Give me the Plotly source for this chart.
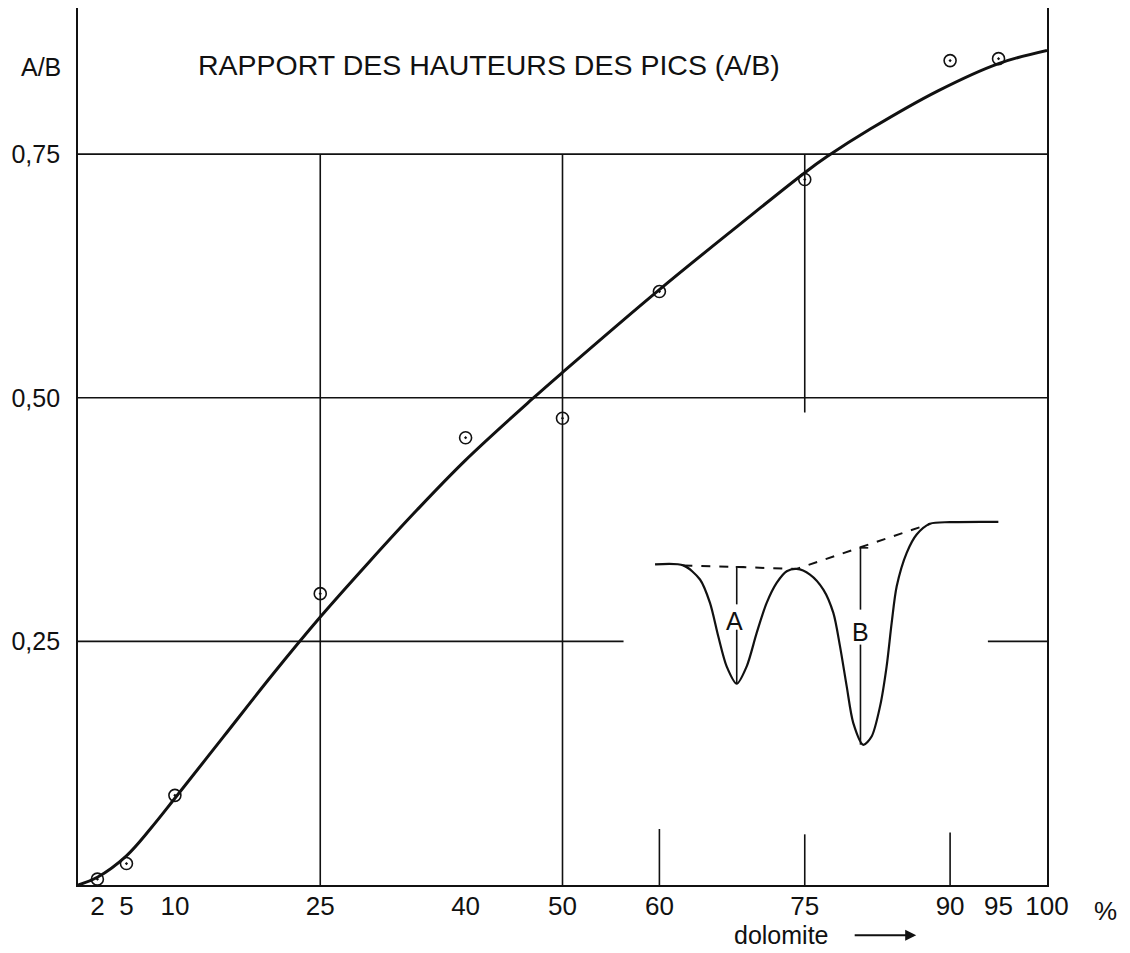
import plotly.graph_objects as go

# ---- data ----
tick_vals_x = [2, 5, 10, 25, 40, 50, 60, 75, 90, 95, 100]
tick_text_x = ["2", "5", "10", "25", "40", "50", "60", "75", "90", "95", "100"]
tick_vals_y = [0.25, 0.50, 0.75]
tick_text_y = ["0,25", "0,50", "0,75"]

# measured points (% dolomite, A/B)
pts_x = [2, 5, 10, 25, 40, 50, 60, 75, 90, 95]
pts_y = [0.006, 0.022, 0.092, 0.299, 0.459, 0.479, 0.609, 0.724, 0.846, 0.848]

# drawn calibration curve
curve_x = [0, 2, 5, 7.5, 10, 15, 20, 25, 30, 35, 40, 46.85, 50,
           60, 68.3, 75, 77.3, 81.8, 88.75, 95, 100]
curve_y = [0, 0.008, 0.03, 0.058, 0.089, 0.152, 0.215, 0.275, 0.331,
           0.385, 0.436, 0.4985, 0.526, 0.611, 0.678, 0.731, 0.7475, 0.776, 0.815,
           0.843, 0.8565]

# inset sketch: DTA-like trace with peaks A and B
inset_x = [59.55, 62.47, 64.19, 65.22, 66.08, 66.94, 67.98, 69.01, 70.04, 71.07,
           72.1, 73.14, 74.17, 75.54, 76.92, 77.95, 78.64, 79.33, 80.01, 81.04,
           81.9, 82.77, 83.45, 83.97, 84.49, 85.52, 86.55, 87.93, 89.99, 94.98]
inset_y = [0.329, 0.328, 0.3135, 0.2895, 0.255, 0.2244, 0.2066, 0.2244, 0.2587,
           0.2895, 0.310, 0.322, 0.3244, 0.3186, 0.3032, 0.2792, 0.2449, 0.2038,
           0.1662, 0.1439, 0.1524, 0.1833, 0.2244, 0.269, 0.3066, 0.3409, 0.3597,
           0.3707, 0.3724, 0.3727]
base_x = [62.47, 74.17, 87.93]
base_y = [0.328, 0.3244, 0.3707]

# peak height markers
a_x, a_top, a_gap_top, a_gap_bot, a_bot = 67.98, 0.3265, 0.288, 0.262, 0.2066
b_x, b_top, b_gap_top, b_gap_bot, b_bot = 80.75, 0.346, 0.2826, 0.2467, 0.144

# grid segments (value, start, end)
h_grid = [(0.75, 0, 100), (0.50, 0, 100), (0.25, 0, 56.3), (0.25, 93.9, 100)]
v_grid = [(25, 0, 0.75), (50, 0, 0.75), (75, 0.485, 0.75),
          (60, 0, 0.0575), (75, 0, 0.052), (90, 0, 0.054)]

X_RANGE = [0, 100]
Y_RANGE = [0, 0.9]

FONT = "Liberation Sans, Arial, sans-serif"
INK = "#111111"


def fx(v):  # data x -> paper fraction
    return (v - X_RANGE[0]) / (X_RANGE[1] - X_RANGE[0])


def fy(v):  # data y -> paper fraction
    return (v - Y_RANGE[0]) / (Y_RANGE[1] - Y_RANGE[0])


def label(text, x, y, size, **kw):
    d = dict(text=text, xref="paper", yref="paper", x=x, y=y, xanchor="center",
             yanchor="middle", showarrow=False,
             font=dict(family=FONT, size=size, color=INK))
    d.update(kw)
    return d


fig = go.Figure()

fig.add_trace(go.Scatter(x=curve_x, y=curve_y, mode="lines",
                         line=dict(color=INK, width=3, shape="spline", smoothing=1.0),
                         hoverinfo="skip", showlegend=False))
fig.add_trace(go.Scatter(x=pts_x, y=pts_y, mode="markers",
                         marker=dict(symbol="circle-open-dot", size=12, color=INK,
                                     line=dict(color=INK, width=1.6)),
                         showlegend=False))
fig.add_trace(go.Scatter(x=inset_x, y=inset_y, mode="lines",
                         line=dict(color=INK, width=2.2, shape="spline", smoothing=0.8),
                         hoverinfo="skip", showlegend=False))
fig.add_trace(go.Scatter(x=base_x, y=base_y, mode="lines",
                         line=dict(color=INK, width=2, dash="dash"),
                         hoverinfo="skip", showlegend=False))

shapes = []
for yv, x0, x1 in h_grid:
    shapes.append(dict(type="line", xref="x", yref="y", x0=x0, x1=x1, y0=yv, y1=yv,
                       line=dict(color=INK, width=1.6), layer="below"))
for xv, y0, y1 in v_grid:
    shapes.append(dict(type="line", xref="x", yref="y", x0=xv, x1=xv, y0=y0, y1=y1,
                       line=dict(color=INK, width=1.6), layer="below"))
for xv, top, gt, gb, bot in [(a_x, a_top, a_gap_top, a_gap_bot, a_bot),
                             (b_x, b_top, b_gap_top, b_gap_bot, b_bot)]:
    shapes.append(dict(type="line", xref="x", yref="y", x0=xv, x1=xv, y0=top, y1=gt,
                       line=dict(color=INK, width=1.6)))
    shapes.append(dict(type="line", xref="x", yref="y", x0=xv, x1=xv, y0=gb, y1=bot,
                       line=dict(color=INK, width=1.6)))
    shapes.append(dict(type="line", xref="x", yref="y", x0=xv - 0.1, x1=xv + 0.8,
                       y0=top, y1=top, line=dict(color=INK, width=1.6)))

annotations = [
    label("RAPPORT DES HAUTEURS DES PICS (A/B)", fx(42.4), fy(0.842), 28.5),
    label("A/B", 0, fy(0.839), 25, xanchor="right", xshift=-15),
    label("A", fx(a_x - 0.2), fy(0.271), 25),
    label("B", fx(b_x), fy(0.26), 25),
    label("%", fx(106), fy(-0.027), 26),
    label("dolomite", fx(72.6), fy(-0.051), 25),
    dict(text="", xref="paper", yref="paper", x=fx(86.5), y=fy(-0.0515),
         ax=-63, ay=0, showarrow=True, arrowhead=2, arrowsize=1.1, arrowwidth=2,
         arrowcolor=INK),
]

# the page body adds an 8 px offset; margins compensate so the plot area
# lands at x 78..1047, y 8..885 of the screenshot
fig.update_layout(
    width=1130, height=953,
    margin=dict(l=70, r=91, t=0, b=76),
    paper_bgcolor="white", plot_bgcolor="white",
    shapes=shapes, annotations=annotations,
    showlegend=False,
    xaxis=dict(range=X_RANGE, tickvals=tick_vals_x, ticktext=tick_text_x,
               showgrid=False, zeroline=False, showline=True, linecolor=INK,
               linewidth=2, ticks="", ticklabelstandoff=-3,
               tickfont=dict(family=FONT, size=26, color=INK)),
    yaxis=dict(range=Y_RANGE, tickvals=tick_vals_y, ticktext=tick_text_y,
               showgrid=False, zeroline=False, showline=True, mirror=True,
               linecolor=INK, linewidth=1.8, ticks="", ticklabelstandoff=11,
               tickfont=dict(family=FONT, size=25, color=INK)),
)

fig.write_html("out.html")
